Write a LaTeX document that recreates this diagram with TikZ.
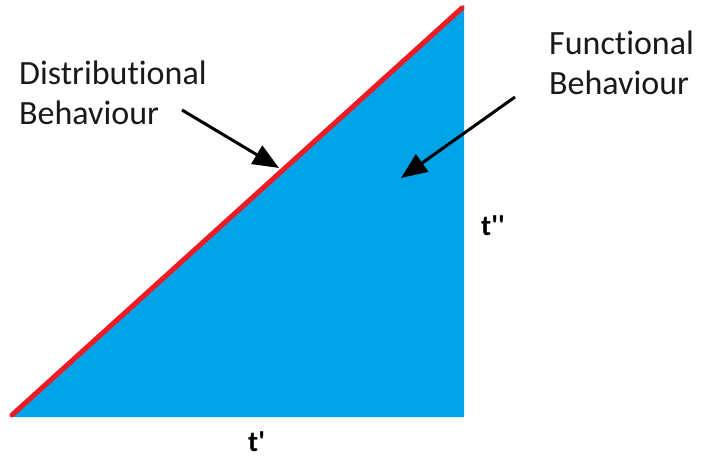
\documentclass[tikz,border=0pt]{standalone}
\usepackage{fontspec}
\setmainfont{Carlito}[Ligatures={TeXOff,NoCommon}]
\usetikzlibrary{arrows.meta,positioning}
\definecolor{paintblue}{RGB}{0,162,232}
\definecolor{paintred}{RGB}{237,28,36}

\begin{document}
\begin{tikzpicture}[
  x=1pt, y=-1pt,
  lbl/.style={font=\fontsize{34}{40}\selectfont, align=left, anchor=north west,
              inner sep=0pt, text=black!90},
  axl/.style={font=\fontsize{29}{32}\selectfont\bfseries, inner sep=0pt, anchor=base west},
  ptr/.style={-{Triangle[length=26pt,width=21pt]}, line width=3pt, black}
]
\useasboundingbox (0,0) rectangle (701,457);

%% ---------- TRIANGLE ----------
\coordinate (bl) at (12,415);
\coordinate (br) at (464,417);
\coordinate (tr) at (464,5);
\fill[paintblue] (12,417) -- (br) -- (tr) -- cycle;
\draw[paintred, line width=5pt, line cap=round] (bl) -- (462,8);

%% ---------- LABELS ----------
\node[lbl] (dist) at (19,61)  {Distributional\\Behaviour};
\node[lbl] (func) at (549,31) {Functional\\Behaviour};
\node[axl] (tpp)  at (481,235) {t''};
\node[axl] (tp)   at (248,451) {t'};

%% ---------- POINTERS ----------
\coordinate (dtail) at (182,110);
\coordinate (dtip)  at (279,168);
\coordinate (ftail) at (515,97);
\coordinate (ftip)  at (401,178);
\draw[ptr] (dtail) -- (dtip);
\draw[ptr] (ftail) -- (ftip);

\end{tikzpicture}
\end{document}
